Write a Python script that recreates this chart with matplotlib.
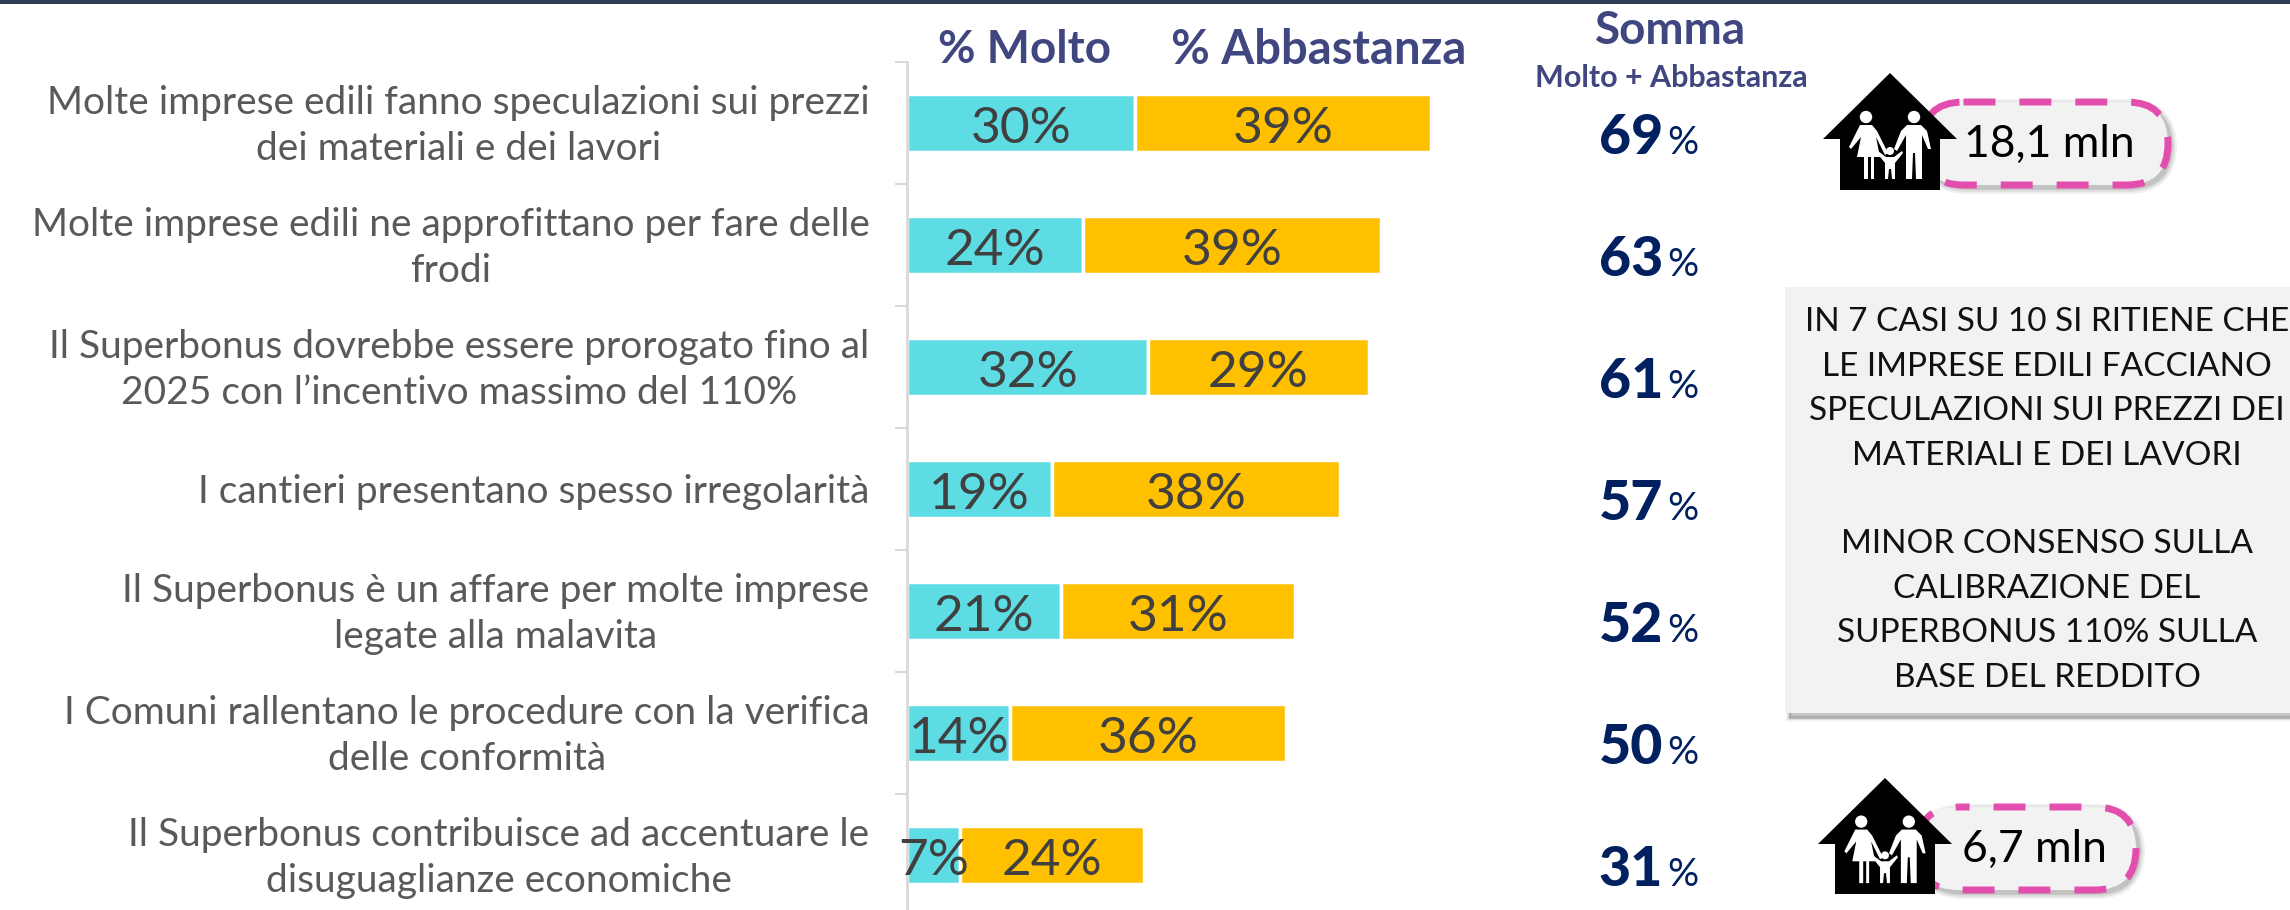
import matplotlib
matplotlib.use("Agg")
import matplotlib.pyplot as plt
from matplotlib.patches import Circle, FancyBboxPatch, Polygon, Rectangle
from matplotlib.transforms import Affine2D

plt.rcParams["font.family"] = ["Lato", "DejaVu Sans"]

W, H = 2290, 910

categories = [
    "Molte imprese edili fanno speculazioni sui prezzi\ndei materiali e dei lavori",
    "Molte imprese edili ne approfittano per fare delle\nfrodi",
    "Il Superbonus dovrebbe essere prorogato fino al\n2025 con l\u2019incentivo massimo del 110%",
    "I cantieri presentano spesso irregolarit\u00e0",
    "Il Superbonus \u00e8 un affare per molte imprese\nlegate alla malavita",
    "I Comuni rallentano le procedure con la verifica\ndelle conformit\u00e0",
    "Il Superbonus contribuisce ad accentuare le\ndisuguaglianze economiche",
]
# bar lengths as measured, the labels are what the picture prints
molto = [30.5, 23.6, 32.3, 19.4, 20.6, 13.8, 7.0]
abbastanza = [39.8, 40.0, 29.6, 38.7, 31.4, 37.0, 24.8]
molto_labels = ["30%", "24%", "32%", "19%", "21%", "14%", "7%"]
abbastanza_labels = ["39%", "39%", "29%", "38%", "31%", "36%", "24%"]
somma = [69, 63, 61, 57, 52, 50, 31]

box_lines = (
    "IN 7 CASI SU 10 SI RITIENE CHE\nLE IMPRESE EDILI FACCIANO\n"
    "SPECULAZIONI SUI PREZZI DEI\nMATERIALI E DEI LAVORI\n\n"
    "MINOR CONSENSO SULLA\nCALIBRAZIONE DEL\n"
    "SUPERBONUS 110% SULLA\nBASE DEL REDDITO"
)

CYAN = "#5DDCE3"
GOLD = "#FFC000"
HEAD = "#3F4680"
NAVY = "#002060"
GREY = "#595959"
PINK = "#E34DAE"

fig = plt.figure(figsize=(W / 100, H / 100), dpi=100)

# pixel layer for everything that is not a bar
px = fig.add_axes([0, 0, 1, 1])
px.set_xlim(0, W)
px.set_ylim(H, 0)
px.axis("off")

# bars on their own axes, 122 px per category
left, top, bottom = 907, 62, 916
ax = fig.add_axes([left / W, 1 - bottom / H, 1 - left / W, (bottom - top) / H])
ax.patch.set_alpha(0)
ax.set_xlim(-0.05, (W - left) / 7.45 - 0.05)
ax.set_ylim(len(categories) - 0.5, -0.5)
y = range(len(categories))
ax.barh(y, molto, height=0.47, color=CYAN, edgecolor="white", linewidth=2.5)
ax.barh(y, abbastanza, left=molto, height=0.47, color=GOLD, edgecolor="white", linewidth=2.5)
for i in y:
    ax.text(molto[i] / 2, i + 0.05, molto_labels[i], ha="center", va="center",
            fontsize=37, color="#404040")
    ax.text(molto[i] + abbastanza[i] / 2, i + 0.05, abbastanza_labels[i], ha="center",
            va="center", fontsize=37, color="#404040")
for s in ["top", "right", "bottom"]:
    ax.spines[s].set_visible(False)
ax.spines["left"].set_color("#D9D9D9")
ax.spines["left"].set_linewidth(2)
ax.set_xticks([])
ax.set_yticks([i - 0.5 for i in range(len(categories))])
ax.set_yticklabels([])
ax.tick_params(axis="y", length=9, width=1.5, color="#D9D9D9")
for i, c in enumerate(categories):
    ax.text(-5.1, i + 0.025, c, ha="right", va="center", multialignment="center", fontsize=28,
            color=GREY, linespacing=1.37)

px.add_patch(Rectangle((0, 0), W, 4, color="#2F3E55", lw=0))

px.text(1025, 50, "% Molto", ha="center", va="center", fontsize=33, fontweight="bold", color=HEAD)
px.text(1319, 50, "% Abbastanza", ha="center", va="center", fontsize=34, fontweight="bold", color=HEAD)
px.text(1671, 31, "Somma", ha="center", va="center", fontsize=33, fontweight="bold", color=HEAD)
px.text(1671, 78, "Molto + Abbastanza", ha="center", va="center", fontsize=22, fontweight="bold", color=HEAD)

for i, v in enumerate(somma):
    yy = 138 + i * 122
    px.text(1663, yy, str(v), ha="right", va="center", fontsize=40, fontweight=900, color=NAVY)
    px.text(1667, yy + 5, "%", ha="left", va="center", fontsize=28, color=NAVY)


def pill(x0, x1, y0, y1, label, tx, offset):
    r = (y1 - y0) / 2
    shift = px.transData + Affine2D().translate(3, -3)
    for k, a in [(10, 0.06), (7, 0.08), (4, 0.12)]:
        px.add_patch(FancyBboxPatch((x0, y0), x1 - x0, y1 - y0,
                                    boxstyle=f"round,pad=-1,rounding_size={r}",
                                    lw=k, ec=(0, 0, 0, a), fc="none", transform=shift))
    px.add_patch(FancyBboxPatch((x0, y0), x1 - x0, y1 - y0,
                                boxstyle=f"round,pad=0,rounding_size={r}",
                                lw=5, ec=PINK, fc="#F2F2F2",
                                ls=(offset, (4.6, 3.45))))
    px.text(tx, (y0 + y1) / 2 + 1, label, ha="center", va="center", fontsize=32, color="black")


def house(cx, apex, eave, base, half_roof, half_body):
    px.add_patch(Polygon([(cx, apex), (cx + half_roof, eave), (cx + half_body, eave),
                          (cx + half_body, base), (cx - half_body, base),
                          (cx - half_body, eave), (cx - half_roof, eave)],
                         closed=True, fc="black", ec="none", zorder=5))
    # scale from the 18,1 mln house, apex 73 and base 190
    s = (base - apex) / 117
    def pt(dx, dy):
        return (cx + dx * s, apex + dy * s)
    def fig_poly(points):
        px.add_patch(Polygon([pt(*p) for p in points], closed=True, fc="white", ec="none", zorder=6))
    # woman
    px.add_patch(Circle(pt(-24, 44), 6.2 * s, fc="white", ec="none", zorder=6))
    fig_poly([(-30, 52), (-18, 52), (-13, 58), (-2, 80), (-5, 82), (-14, 64), (-10, 84),
              (-16, 84), (-16, 106), (-19, 106), (-19, 84), (-22, 84), (-22, 106),
              (-26, 106), (-26, 84), (-33, 84), (-29, 64), (-39, 76), (-41, 74), (-33, 58)])
    # man
    px.add_patch(Circle(pt(24, 44), 6.2 * s, fc="white", ec="none", zorder=6))
    fig_poly([(17, 52), (31, 52), (37, 58), (41, 76), (38, 76), (32, 62), (32, 106),
              (26, 106), (25, 80), (23, 80), (22, 106), (16, 106), (16, 62),
              (7, 78), (4, 76), (11, 58)])
    # child
    px.add_patch(Circle(pt(0, 78), 4 * s, fc="white", ec="none", zorder=6))
    fig_poly([(-4, 84), (4, 84), (12, 78), (13, 80), (5, 90), (5, 106), (2, 106), (1, 96),
              (-1, 96), (-2, 106), (-5, 106), (-5, 90), (-13, 80), (-12, 78)])


pill(1922, 2168, 102, 185, "18,1 mln", 2049, 0)
house(1890, 73, 139, 190, 67, 50)
pill(1917, 2136, 807, 890, "6,7 mln", 2034, 3)
house(1885, 778, 844, 894, 67, 50)

# grey note, shadow falls below and to the right
for k, a in [(5, 0.04), (3, 0.07), (1, 0.12)]:
    px.add_patch(Rectangle((1785 + 4, 287 + 5), W, 426, fc=(0, 0, 0, a), ec=(0, 0, 0, a), lw=k))
px.add_patch(Rectangle((1785, 287), W, 426, fc="#F2F2F2", ec="none"))
px.text(2047, 500, box_lines, ha="center", va="center", fontsize=24, color="#111111", linespacing=1.6)

fig.savefig("out.png", dpi=100)
